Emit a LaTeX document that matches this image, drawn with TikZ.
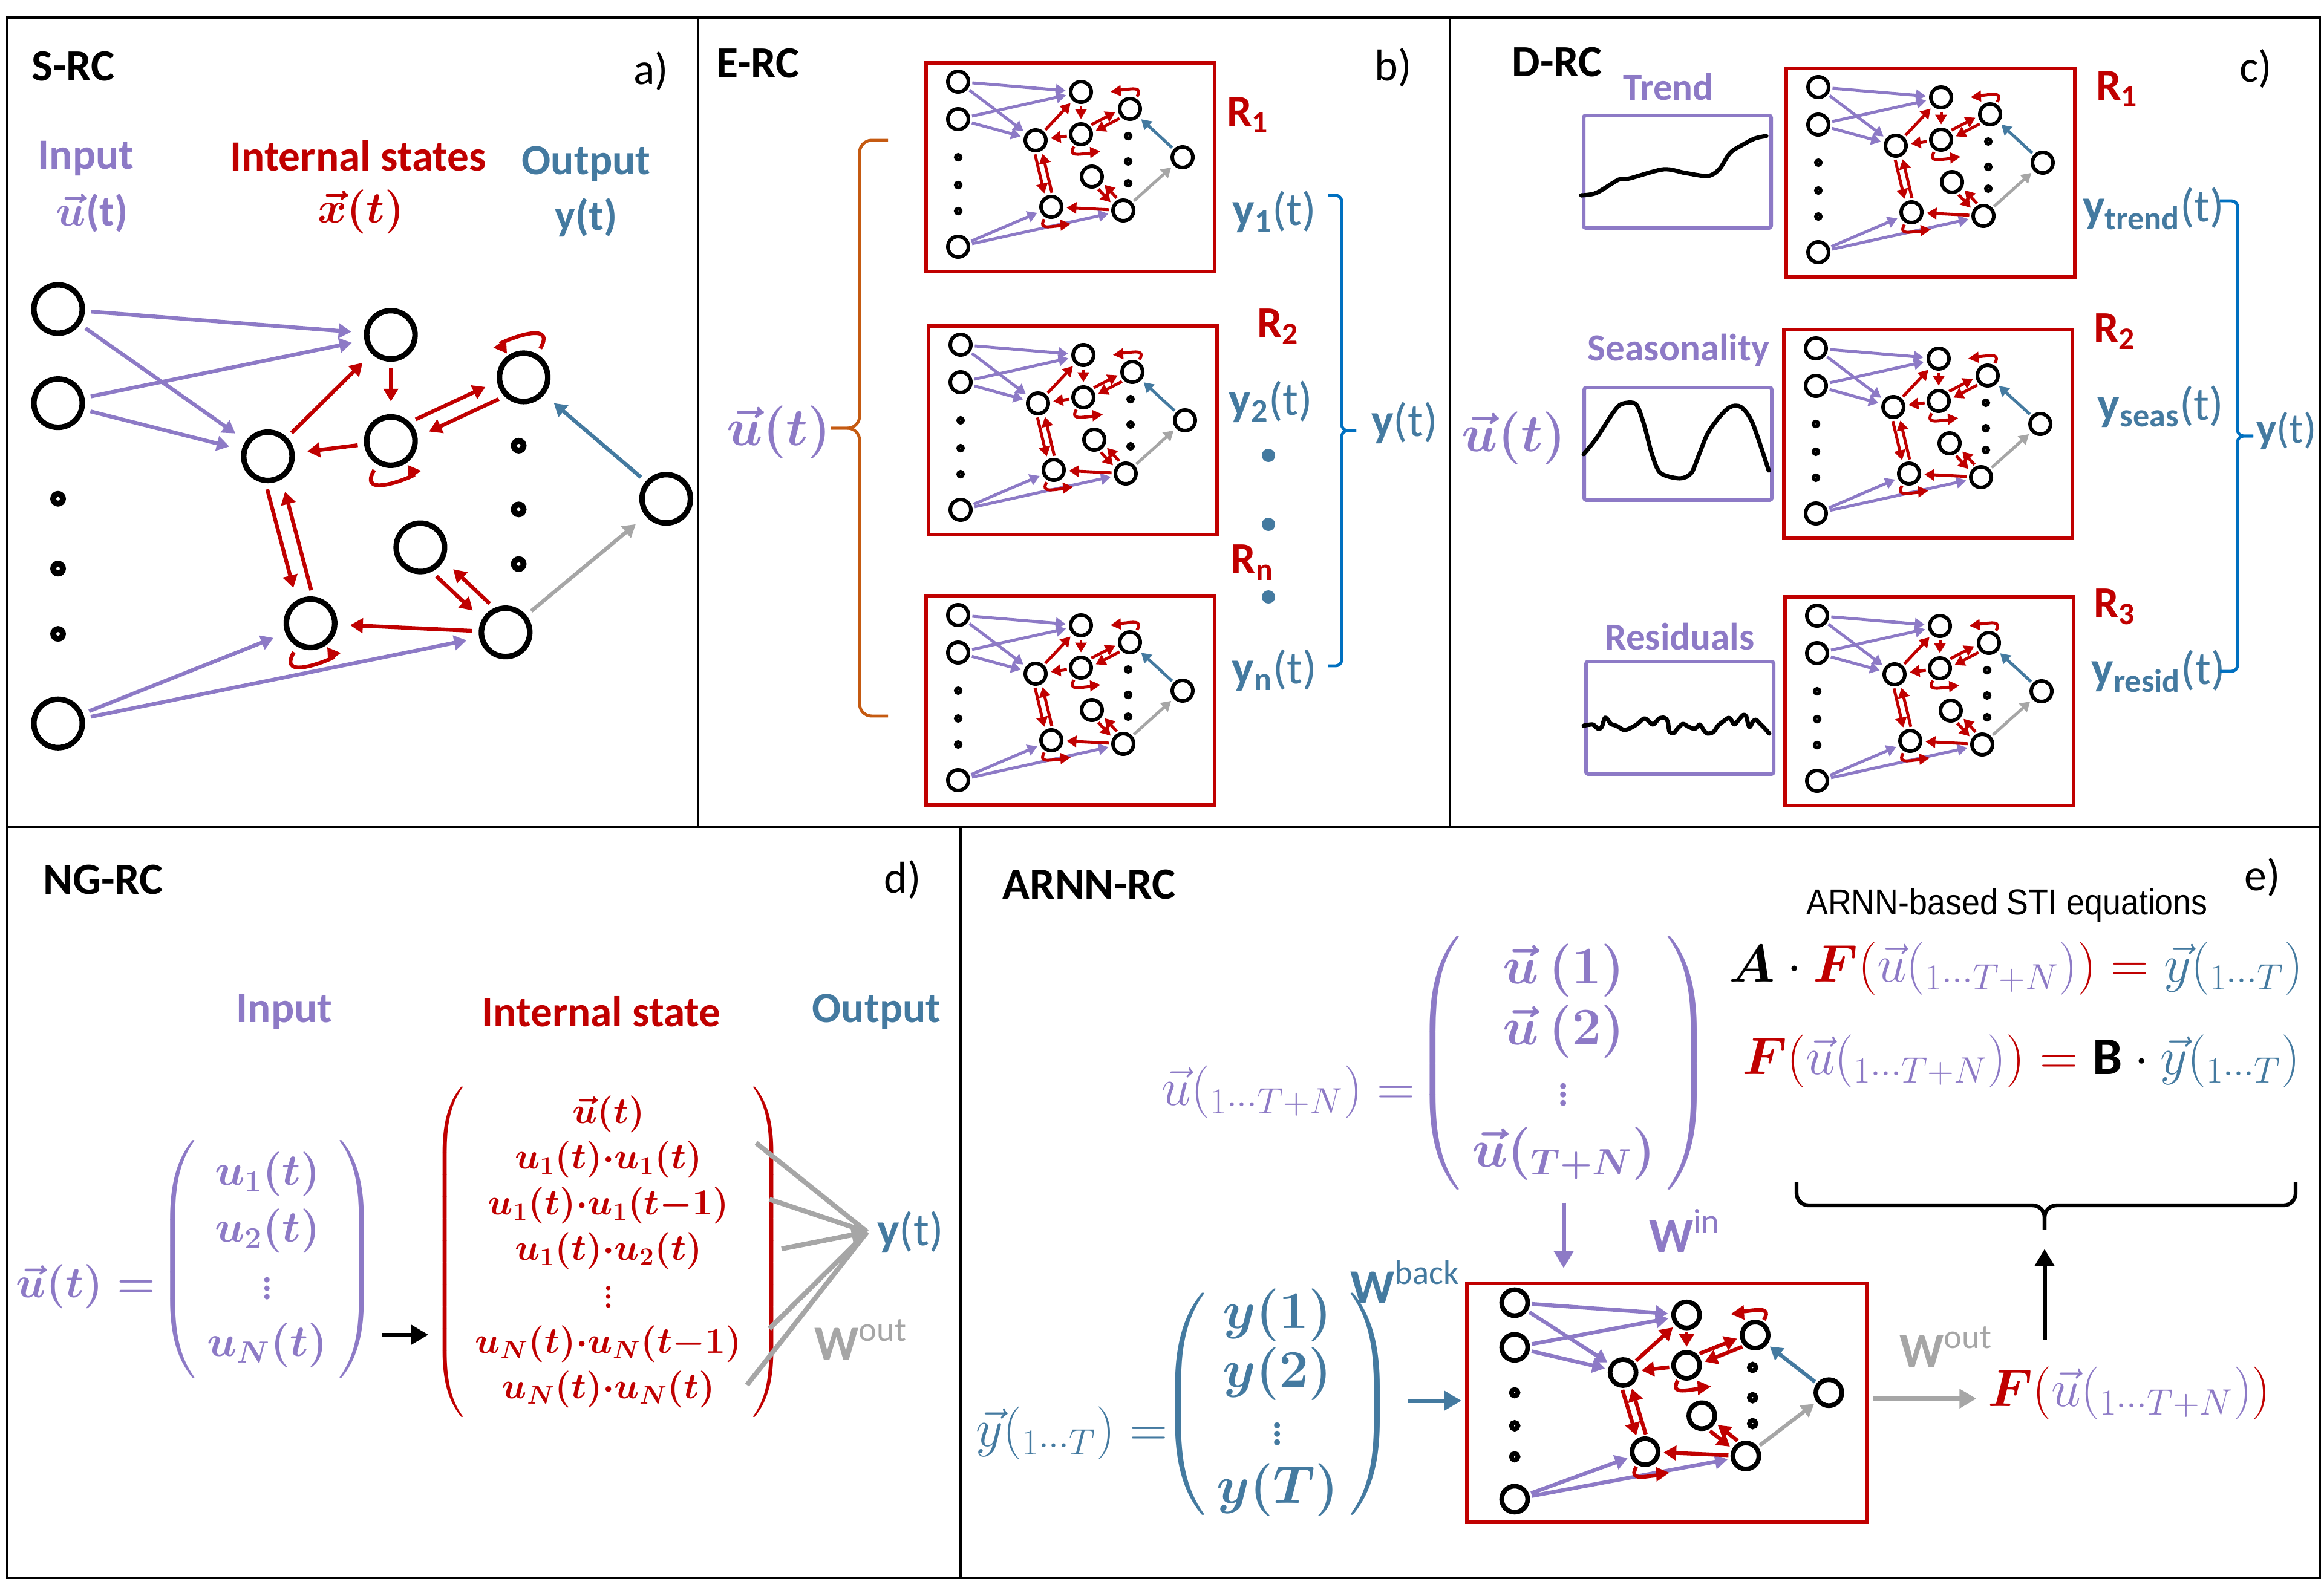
\documentclass[tikz,border=0pt]{standalone}
\usepackage{amsmath}
\usepackage{fontspec}
\setmainfont{Carlito}
\newfontfamily\narrowfont{Liberation Sans}[FakeStretch=0.9]
\usepackage{xcolor}
\usepackage{tikz}
\usetikzlibrary{positioning, arrows.meta, calc}

\definecolor{rcpurple}{RGB}{141,122,198}
\definecolor{rcred}{RGB}{192,0,0}
\definecolor{rcblue}{RGB}{68,122,160}
\definecolor{rcgray}{RGB}{166,166,166}
\definecolor{rcorange}{RGB}{197,90,17}
\definecolor{rcbracket}{RGB}{0,112,192}

\newcommand{\fsz}[1]{\fontsize{#1}{#1}\selectfont}
\newcommand{\bmath}[1]{{\boldmath$#1$}}

\tikzset{
  frame/.style   ={line width=0.9pt},
  neuron/.style  ={circle, draw, line width=1.7pt, minimum size=3.4mm, inner sep=0pt},
  ndot/.style    ={circle, draw, line width=1.7pt, minimum size=0.8mm, inner sep=0pt},
  netarr/.style  ={line width=1.4pt, -{Triangle[length=0pt 3.3, width=0pt 3.8]},
                   shorten <=1pt, shorten >=1.5pt},
  inarr/.style   ={netarr, rcpurple},
  resarr/.style  ={netarr, rcred},
  fbarr/.style   ={netarr, rcblue},
  outarr/.style  ={netarr, rcgray},
  selfloop/.style={resarr, looseness=4, min distance=1.5mm},
  resbox/.style  ={draw=rcred, line width=1.8pt, minimum width=4.77cm,
                   minimum height=3.45cm, anchor=north west, inner sep=0pt},
  sigbox/.style  ={draw=rcpurple, line width=1.7pt, rounded corners=1pt,
                   minimum width=3.1cm, minimum height=1.86cm, anchor=north west, inner sep=0pt},
  sigline/.style ={line width=2pt, line cap=round, line join=round},
  brk/.style     ={line width=1.4pt, rounded corners=0.2cm},
  title/.style   ={font=\fsz{21}\bfseries, anchor=west, inner sep=0pt},
  plabel/.style  ={font=\fsz{21}, inner sep=0pt},
  lbl/.style     ={font=\fsz{20.3}\bfseries, inner sep=0pt},
  slbl/.style    ={font=\fsz{18}\bfseries, text=rcpurple, inner sep=0pt},
  ylbl/.style    ={font=\fsz{22}, text=rcblue, inner sep=0pt},
  rlbl/.style    ={font=\fsz{21}\bfseries, text=rcred, inner sep=0pt},
  vmath/.style   ={font=\fsz{23}, text=rcpurple, inner sep=0pt},
  emath/.style   ={font=\fsz{25}, inner sep=0pt},
  wlbl/.style    ={font=\fsz{23}, inner sep=0pt},
  bigarr/.style  ={line width=2pt, -{Triangle[length=0pt 4, width=0pt 4.4]}},
  fanline/.style ={line width=2.3pt, rcgray},
  pics/reservoir/.style={code={
    \node[neuron] (-i1) at (0,0)     {};
    \node[neuron] (-i2) at (0,-0.62) {};
    \node[neuron] (-i3) at (0,-2.73) {};
    \foreach \yy [count=\k] in {1.25,1.71,2.14}
      \node[ndot] (-dl\k) at (0,-\yy) {};
    \node[neuron] (-h1) at (2.03,-0.17) {};
    \node[neuron] (-h2) at (1.28,-0.97) {};
    \node[neuron] (-h3) at (2.03,-0.87) {};
    \node[neuron] (-h4) at (2.84,-0.45) {};
    \node[neuron] (-h5) at (2.21,-1.57) {};
    \node[neuron] (-h6) at (1.54,-2.07) {};
    \node[neuron] (-h7) at (2.73,-2.13) {};
    \foreach \yy [count=\k] in {0.90,1.32,1.68}
      \node[ndot] (-dr\k) at (2.81,-\yy) {};
    \node[neuron] (-o) at (3.71,-1.25) {};
    % input weights
    \draw[inarr] (-i1) -- (-h1);
    \draw[inarr] (-i1) -- (-h2);
    \draw[inarr] (-i2) -- (-h1);
    \draw[inarr] (-i2) -- (-h2);
    \draw[inarr] (-i3) -- (-h6);
    \draw[inarr] (-i3) -- (-h7);
    % reservoir links
    \draw[resarr] (-h2) -- (-h1);
    \draw[resarr] (-h1) -- (-h3);
    \draw[resarr] (-h3) -- (-h2);
    \draw[resarr] (-h7) -- (-h6);
    \draw[resarr] (-h3.45)  -- (-h4.189);
    \draw[resarr] (-h4.225) -- (-h3.9);
    \draw[resarr] (-h2.265) -- (-h6.121);
    \draw[resarr] (-h6.85)  -- (-h2.301);
    \draw[resarr] (-h5.295) -- (-h7.151);
    \draw[resarr] (-h7.115) -- (-h5.331);
    \draw[selfloop] (-h3) to[out=-120, in=-55] (-h3);
    \draw[selfloop] (-h6) to[out=-120, in=-55] (-h6);
    \draw[selfloop] (-h4) to[out=60, in=125] (-h4);
    % readout and feedback
    \draw[fbarr] (-o) -- (-h4);
    \draw[outarr] (-h7) -- (-o);
  }}
}

\begin{document}
\begin{tikzpicture}
\useasboundingbox (0,0) rectangle (38.42,-26.38);
% panel frames
\draw[frame] (0.12,-0.29) rectangle (38.35,-26.09);
\draw[frame] (11.54,-0.29) -- (11.54,-13.67);
\draw[frame] (23.97,-0.29) -- (23.97,-13.67);
\draw[frame] (0.12,-13.67) -- (38.35,-13.67);
\draw[frame] (15.88,-13.67) -- (15.88,-26.09);

% a) S-RC
\node[title] (srct) at (0.52,-1.10) {S-RC};
\node[plabel] (pa) at (10.76,-1.18) {a)};
\node[lbl, rcpurple] (ina) at (1.42,-2.62) {Input};
\node[lbl, rcpurple] (ua) at (1.52,-3.52) {{\bmath{\vec{u}}(t)}};
\node[lbl, rcred] (isa) at (5.92,-2.58) {Internal states};
\node[lbl, rcred] (xa) at (5.97,-3.50) {{\bmath{\vec{x}(t)}}};
\node[lbl, rcblue] (outa) at (9.69,-2.71) {Output};
\node[lbl, rcblue] (ya) at (9.69,-3.60) {y(t)};
\begin{scope}[shift={(0.96,-5.11)}, x=2.71cm, y=2.51cm,
    neuron/.append style={line width=2.6pt, minimum size=8mm},
    ndot/.append style={line width=2.8pt, minimum size=1.6mm},
    netarr/.append style={line width=1.8pt, shorten <=3pt, shorten >=6pt},
    selfloop/.append style={min distance=4mm, shorten >=1pt}]
  \pic (a) at (0,0) {reservoir};
\end{scope}

% b) E-RC
\node[title] (erct) at (11.84,-1.05) {E-RC};
\node[plabel] (pb) at (23.03,-1.12) {b)};
\node[resbox] (boxb1) at (15.28,-1.01) {};
\node[resbox] (boxb2) at (15.32,-5.36) {};
\node[resbox] (boxb3) at (15.28,-9.83) {};
\foreach \k in {1,2,3}
  \pic (b\k) at ([shift={(0.56,-0.34)}]boxb\k.north west) {reservoir};
\node[rlbl] (r1b) at (20.63,-1.90) {R\textsubscript{1}};
\node[rlbl] (r2b) at (21.13,-5.40) {R\textsubscript{2}};
\node[rlbl] (rnb) at (20.70,-9.30) {R\textsubscript{n}};
\node[ylbl] (y1b) at (21.07,-3.50) {\textbf{y\textsubscript{1}}(t)};
\node[ylbl] (y2b) at (21.01,-6.64) {\textbf{y\textsubscript{2}}(t)};
\node[ylbl] (ynb) at (21.07,-11.08) {\textbf{y\textsubscript{n}}(t)};
\foreach \yy [count=\k] in {7.53,8.67,9.87}
  \node[circle, fill=rcblue, minimum size=2.2mm, inner sep=0pt] (bd\k) at (20.97,-\yy) {};
\draw[brk, rcbracket, rounded corners=0.1cm] (21.96,-3.23) -- (22.18,-3.23) -- (22.18,-7.12) -- (22.42,-7.12);
\draw[brk, rcbracket, rounded corners=0.1cm] (21.96,-11.01) -- (22.18,-11.01) -- (22.18,-7.12) -- (22.42,-7.12);
\node[ylbl] (yb) at (23.22,-6.99) {\textbf{y}(t)};
\draw[brk, rcorange] (14.68,-2.32) -- (14.21,-2.32) -- (14.21,-7.08) -- (13.73,-7.08);
\draw[brk, rcorange] (14.68,-11.84) -- (14.21,-11.84) -- (14.21,-7.08) -- (13.73,-7.08);
\node[vmath] (ub) at (12.88,-7.15) {{\bmath{\vec{u}(t)}}};

% c) D-RC
\node[title] (drct) at (24.99,-1.03) {D-RC};
\node[plabel] (pc) at (37.29,-1.14) {c)};
\node[slbl] (trl) at (27.58,-1.44) {Trend};
\node[slbl] (sel) at (27.75,-5.79) {Seasonality};
\node[slbl] (rel) at (27.77,-10.53) {Residuals};
\node[sigbox] (trbox) at (26.15,-1.88) {};
\node[sigbox] (sebox) at (26.16,-6.38) {};
\node[sigbox] (rebox) at (26.19,-10.91) {};
\draw[sigline] plot[smooth] coordinates {(26.14,-3.23) (26.39,-3.19) (26.76,-2.97)
  (26.94,-2.95) (27.50,-2.80) (27.86,-2.86) (28.23,-2.91) (28.42,-2.80) (28.60,-2.53)
  (28.78,-2.41) (29.01,-2.29) (29.20,-2.25)};
\draw[sigline] plot[smooth] coordinates {(26.18,-7.51) (26.39,-7.25) (26.67,-6.82)
  (26.81,-6.68) (27.04,-6.68) (27.17,-6.99) (27.31,-7.51) (27.45,-7.82) (27.77,-7.91)
  (27.96,-7.82) (28.09,-7.51) (28.23,-7.17) (28.42,-6.90) (28.60,-6.73) (28.78,-6.73)
  (28.97,-6.99) (29.24,-7.78)};
\draw[sigline] plot[smooth, tension=0.5] coordinates {(26.18,-12.00) (26.33,-11.98)
  (26.42,-12.05) (26.48,-12.02) (26.53,-11.87) (26.58,-11.90) (26.63,-11.97) (26.72,-12.00)
  (26.85,-12.07) (26.97,-12.03) (27.07,-11.97) (27.18,-11.88) (27.25,-11.92) (27.33,-11.98)
  (27.43,-11.88) (27.52,-11.87) (27.57,-11.93) (27.60,-12.10) (27.67,-12.12) (27.73,-12.05)
  (27.82,-11.97) (27.92,-12.02) (28.02,-12.05) (28.10,-11.98) (28.17,-12.08) (28.23,-12.13)
  (28.33,-12.10) (28.40,-12.00) (28.50,-11.92) (28.58,-11.87) (28.63,-11.92) (28.67,-11.98)
  (28.73,-11.92) (28.82,-11.82) (28.87,-11.85) (28.90,-11.98) (28.93,-12.02) (28.98,-11.93)
  (29.03,-11.90) (29.10,-11.97) (29.18,-12.05) (29.25,-12.13)};
\node[vmath] (uc) at (25.03,-7.25) {{\bmath{\vec{u}(t)}}};
\node[resbox] (boxc1) at (29.50,-1.10) {};
\node[resbox] (boxc2) at (29.46,-5.42) {};
\node[resbox] (boxc3) at (29.48,-9.84) {};
\foreach \k in {1,2,3}
  \pic (c\k) at ([shift={(0.56,-0.34)}]boxc\k.north west) {reservoir};
\node[rlbl] (r1c) at (35.00,-1.47) {R\textsubscript{1}};
\node[rlbl] (r2c) at (34.96,-5.48) {R\textsubscript{2}};
\node[rlbl] (r3c) at (34.96,-10.03) {R\textsubscript{3}};
\node[ylbl] (ytc) at (35.60,-3.45) {\textbf{y\textsubscript{trend}}(t)};
\node[ylbl] (ysc) at (35.72,-6.72) {\textbf{y\textsubscript{seas}}(t)};
\node[ylbl] (yrc) at (35.68,-11.10) {\textbf{y\textsubscript{resid}}(t)};
\draw[brk, rcbracket, rounded corners=0.1cm] (36.70,-3.32) -- (36.99,-3.32) -- (36.99,-7.21) -- (37.25,-7.21);
\draw[brk, rcbracket, rounded corners=0.1cm] (36.70,-11.10) -- (36.99,-11.10) -- (36.99,-7.21) -- (37.25,-7.21);
\node[ylbl, font=\fsz{20}] (yc) at (37.80,-7.12) {\textbf{y}(t)};

% d) NG-RC
\node[title] (ngrct) at (0.71,-14.55) {NG-RC};
\node[plabel] (pd) at (14.92,-14.55) {d)};
\node[lbl, rcpurple] (ind) at (4.70,-16.73) {Input};
\node[lbl, rcred] (isd) at (9.94,-16.73) {Internal state};
\node[lbl, rcblue] (outd) at (14.49,-16.73) {Output};
\node[font=\fsz{21}, rcpurple, inner sep=0pt] (ulhsd) at (1.42,-21.27) {{\bmath{\vec{u}(t)=}}};
\node[font=\fsz{21}, rcpurple, inner sep=0pt] (uvecd) at (4.42,-20.82)
  {{\renewcommand\arraystretch{1.28}\bmath{\left(\begin{array}{c}u_1(t)\\u_2(t)\\\vdots\\u_N(t)\end{array}\right)}}};
\node[font=\fsz{17}, rcred, inner sep=0pt] (svecd) at (10.06,-20.70)
  {{\renewcommand\arraystretch{1.26}\bmath{\left(\begin{array}{c}\vec{u}(t)\\u_1(t){\cdot}u_1(t)\\
   u_1(t){\cdot}u_1(t{-}1)\\u_1(t){\cdot}u_2(t)\\\vdots\\u_N(t){\cdot}u_N(t{-}1)\\
   u_N(t){\cdot}u_N(t)\end{array}\right)}}};
\draw[bigarr] ([xshift=0.08cm]uvecd.east |- 0,-22.07) -- ([xshift=-0.06cm]svecd.west |- 0,-22.07);
\node[ylbl] (yd) at (15.05,-20.37) {\textbf{y}(t)};
\coordinate (ytip) at ([xshift=-0.16cm]yd.west);
\foreach \px/\py [count=\k] in {12.50/-18.90, 12.72/-19.83, 12.92/-20.65, 12.72/-21.97, 12.35/-22.90}
  \coordinate (fan\k) at (\px,\py);
\foreach \k in {1,2,4,5}
  \draw[fanline] (fan\k) -- (ytip);
\draw[fanline, -{Triangle[length=0pt 3.2, width=0pt 3.6]}] (fan3) -- (ytip);
\node[wlbl, rcgray] (woutd) at (14.23,-22.15) {\textbf{W}\textsuperscript{out}};

% e) ARNN-RC
\node[title] (arnnt) at (16.57,-14.63) {ARNN-RC};
\node[plabel] (pe) at (37.40,-14.51) {e)};
\node[font=\narrowfont\fsz{17}, inner sep=0pt] (stil) at (33.18,-14.97) {ARNN-based STI equations};
\node[emath] (eq1) at (33.33,-16.02)
  {{$\boldsymbol{A}\cdot{\color{rcred}\boldsymbol{F}(}{\color{rcpurple}\vec{u}(_{1\cdots T+N})}{\color{rcred})}\mathrel{\color{rcred}=}{\color{rcblue}\vec{y}(_{1\cdots T})}$}};
\node[emath] (eq2) at (33.41,-17.55)
  {{${\color{rcred}\boldsymbol{F}(}{\color{rcpurple}\vec{u}(_{1\cdots T+N})}{\color{rcred})}\mathrel{\color{rcred}=}\textbf{B}\cdot{\color{rcblue}\vec{y}(_{1\cdots T})}$}};
\node[emath, rcpurple] (ulhse) at (21.30,-18.06) {{$\vec{u}(_{1\cdots T+N})=$}};
\node[emath, rcpurple, font=\fsz{23}] (umate) at (25.85,-17.58)
  {{\renewcommand\arraystretch{1.25}\bmath{\left(\begin{array}{c}\vec{u}\,(1)\\\vec{u}\,(2)\\\vdots\\\vec{u}(_{T+N})\end{array}\right)}}};
\node[emath, rcblue] (ylhse) at (17.72,-23.70) {{$\vec{y}(_{1\cdots T})=$}};
\node[emath, rcblue, font=\fsz{23}] (ymate) at (21.12,-23.22)
  {{\renewcommand\arraystretch{1.19}\bmath{\left(\begin{array}{c}y(1)\\y(2)\\\vdots\\y(T)\end{array}\right)}}};
\node[resbox, minimum width=6.62cm, minimum height=3.95cm] (boxe) at (24.22,-21.19) {};
\begin{scope}[shift={($(boxe.north west)+(0.82,-0.35)$)}, x=1.4cm, y=1.19cm,
    neuron/.append style={line width=2.2pt, minimum size=4.3mm},
    ndot/.append style={line width=2.2pt, minimum size=1.1mm},
    netarr/.append style={line width=1.8pt},
    selfloop/.append style={min distance=2mm}]
  \pic (e) at (0,0) {reservoir};
\end{scope}
\node[wlbl, rcpurple] (wine) at (27.85,-20.35) {\textbf{W}\textsuperscript{in}};
\node[wlbl, rcblue] (wbacke) at (23.23,-21.20) {\textbf{W}\textsuperscript{back}};
\node[wlbl, rcgray] (woute) at (32.17,-22.27) {\textbf{W}\textsuperscript{out}};
\node[emath] (foute) at (35.20,-23.04)
  {{${\color{rcred}\boldsymbol{F}(}{\color{rcpurple}\vec{u}(_{1\cdots T+N})}{\color{rcred})}$}};
\draw[bigarr, rcpurple, shorten <=0.2cm, shorten >=0.22cm] (umate.south) -- (umate.south |- boxe.north);
\draw[bigarr, rcblue, shorten <=0.2cm, shorten >=0.06cm] ([yshift=0.06cm]ymate.east) -- ([yshift=0.06cm]ymate.east -| boxe.west);
\draw[bigarr, rcgray, shorten <=0.06cm, shorten >=0.18cm] ([yshift=0.07cm]boxe.east) -- ([yshift=0.07cm]boxe.east -| foute.west);
\draw[brk, line width=1.8pt] (29.70,-19.54) -- (29.70,-19.93) -- (33.80,-19.93) -- (33.80,-20.33);
\draw[brk, line width=1.8pt] (37.95,-19.54) -- (37.95,-19.93) -- (33.80,-19.93) -- (33.80,-20.33);
\coordinate (etip) at (33.80,-20.33);
\draw[bigarr, shorten <=0.45cm, shorten >=0.32cm] (etip |- foute.north) -- (etip);
\end{tikzpicture}
\end{document}
